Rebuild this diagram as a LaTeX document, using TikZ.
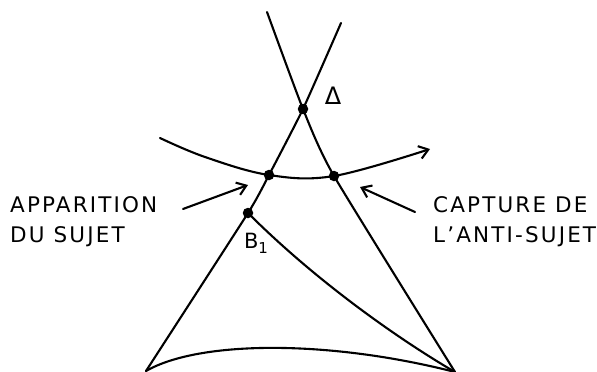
\documentclass[tikz,border=0pt]{standalone}
\usepackage{fontspec}
\setmainfont{DejaVu Sans}
\newfontfamily\hand[LetterSpace=10]{DejaVu Sans}
\usetikzlibrary{arrows.meta}
\begin{document}
\begin{tikzpicture}[x=1pt,y=-1pt,
  stroke/.style={line width=2.1pt,line cap=round,line join=round},
  dot/.style={circle,fill=black,inner sep=0pt,minimum size=10.5pt},
  label/.style={font=\hand\fontsize{21.5}{24}\selectfont,anchor=base west,inner sep=0pt},
  barb/.style={-{Straight Barb[length=9pt,width=13pt,line width=2.1pt]}}]
\useasboundingbox (0,0) rectangle (597,372);
% points
\coordinate (t1) at (267,12);
\coordinate (t2) at (341,23);
\coordinate (bl) at (146,371);
\coordinate (br) at (455,372);
\coordinate (arcL) at (160,138);
\coordinate (arcM) at (205,157);
\coordinate (arcR) at (430,149);
\node[dot] (D) at (303,109) {};
\node[dot] (C1) at (269,175) {};
\node[dot] (C2) at (334,176) {};
\node[dot] (B) at (248,213) {};
% lines
\draw[stroke] plot[smooth,tension=0.35] coordinates {(t1) (D) (C2) (br)};
\draw[stroke] plot[smooth,tension=0.3] coordinates {(t2) (D) (C1) (B) (bl)};
\draw[stroke] (B.center) .. controls (320,285) and (405,343) .. (br);
\draw[stroke] (bl) .. controls (200,340) and (330,340) .. (br);
\draw[stroke,barb] plot[smooth,tension=0.6] coordinates {(arcL) (arcM) (C1) (C2) (arcR)};
% small arrows
\coordinate (a1s) at (183,209);
\coordinate (a1e) at (248,185);
\coordinate (a2s) at (415,212);
\coordinate (a2e) at (360,187);
\draw[stroke,barb] (a1s) -- (a1e);
\draw[stroke,barb] (a2s) -- (a2e);
% labels
\node[font=\fontsize{24}{26}\selectfont,inner sep=0pt] (delta) at (333,96) {Δ};
\node[font=\fontsize{21}{23}\selectfont,inner sep=0pt] (b1) at (256,243) {B\raisebox{-5pt}{\fontsize{15}{17}\selectfont 1}};
\node[label] (app) at (10,212) {APPARITION};
\node[label] (du) at (10,242) {DU SUJET};
\node[label] (cap) at (433,212) {CAPTURE DE};
\node[label] (anti) at (433,242) {L’ANTI-SUJET};
\end{tikzpicture}
\end{document}
